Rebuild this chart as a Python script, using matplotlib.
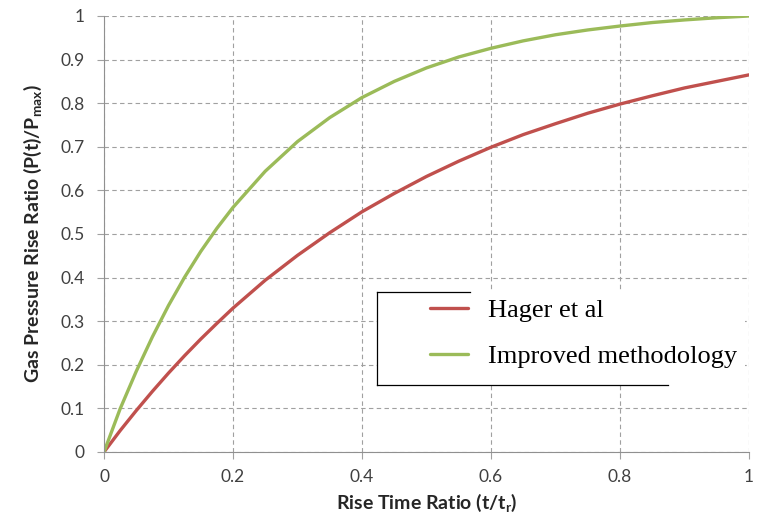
import matplotlib.pyplot as plt
from matplotlib.patches import Rectangle
from matplotlib.lines import Line2D

plt.rcParams['font.family'] = ['Lato', 'DejaVu Sans']
plt.rcParams['mathtext.fontset'] = 'custom'
plt.rcParams['mathtext.rm'] = 'Lato'
plt.rcParams['mathtext.bf'] = 'Lato:bold'

# valores
t = [0, 0.025, 0.05, 0.075, 0.1, 0.125, 0.15, 0.175, 0.2, 0.25, 0.3, 0.35, 0.4,
     0.45, 0.5, 0.55, 0.6, 0.65, 0.7, 0.75, 0.8, 0.85, 0.9, 0.95, 1.0]
hager = [0, 0.049, 0.095, 0.139, 0.181, 0.221, 0.259, 0.295, 0.330, 0.394, 0.451,
         0.503, 0.551, 0.593, 0.632, 0.667, 0.699, 0.728, 0.753, 0.777, 0.798,
         0.817, 0.835, 0.850, 0.865]
mejorado = [0, 0.099, 0.185, 0.264, 0.336, 0.401, 0.460, 0.513, 0.561, 0.644, 0.712,
            0.767, 0.813, 0.850, 0.881, 0.906, 0.926, 0.943, 0.957, 0.968, 0.977,
            0.985, 0.991, 0.996, 1.0]
xticks = [0, 0.2, 0.4, 0.6, 0.8, 1]
yticks = [0, 0.1, 0.2, 0.3, 0.4, 0.5, 0.6, 0.7, 0.8, 0.9, 1]

fig = plt.figure(figsize=(7.57, 5.21), dpi=100)
ax = fig.add_axes([104/757, 1-452/521, 645/757, 436/521])

ax.plot(t, hager, color='#C0504D', lw=2.4, label='Hager et al', solid_capstyle='round')
ax.plot(t, mejorado, color='#9BBB59', lw=2.4, label='Improved methodology', solid_capstyle='round')

ax.set_xlim(0, 1)
ax.set_ylim(0, 1)
ax.set_xticks(xticks)
ax.set_xticklabels(['0', '0.2', '0.4', '0.6', '0.8', '1'])
ax.set_yticks(yticks)
ax.set_yticklabels(['0', '0.1', '0.2', '0.3', '0.4', '0.5', '0.6', '0.7', '0.8', '0.9', '1'])
ax.grid(True, ls=(0, (4, 3)), color='#A0A0A0', lw=0.8)
ax.tick_params(labelsize=12.5, length=5, width=0.8, direction='out')
ax.tick_params(axis='x', colors='#A0A0A0', labelcolor='#404040', pad=7)
ax.tick_params(axis='y', colors='#A0A0A0', labelcolor='#404040', pad=9)
for s in ['top', 'right']:
    ax.spines[s].set_visible(False)
for s in ['left', 'bottom']:
    ax.spines[s].set_color('#909090')

ax.set_xlabel(r'Rise Time Ratio (t/t$_{\mathbf{r}}$)', fontsize=14, fontweight='bold', color='#262626', labelpad=5)
ax.set_ylabel(r'Gas Pressure Rise Ratio (P(t)/P$_{\mathbf{max}}$)', fontsize=14, fontweight='bold', color='#262626', labelpad=12)

# caja de la leyenda
def px(x, y):
    return ((x - 104) / 645, (452 - y) / 436)

x0, y0 = px(377, 385)
x1, y1 = px(745, 292)
ax.add_patch(Rectangle((x0, y0), x1 - x0, y1 - y0, transform=ax.transAxes,
                       facecolor='white', edgecolor='none', zorder=3))
for (a, b) in [((377, 292), (377, 385)), ((377, 292), (470, 292)), ((377, 385), (668, 385))]:
    xa, ya = px(*a)
    xb, yb = px(*b)
    ax.add_line(Line2D([xa, xb], [ya, yb], transform=ax.transAxes, color='black', lw=0.9, zorder=4))

lx, ly = px(430, 299)
leg = ax.legend(loc='upper left', bbox_to_anchor=(lx, ly), frameon=False,
                prop={'family': 'Liberation Serif', 'size': 19}, handlelength=1.45,
                handletextpad=0.75, labelspacing=0.85, borderaxespad=0, borderpad=0)
leg.set_zorder(5)

plt.savefig('out.png', dpi=100)
